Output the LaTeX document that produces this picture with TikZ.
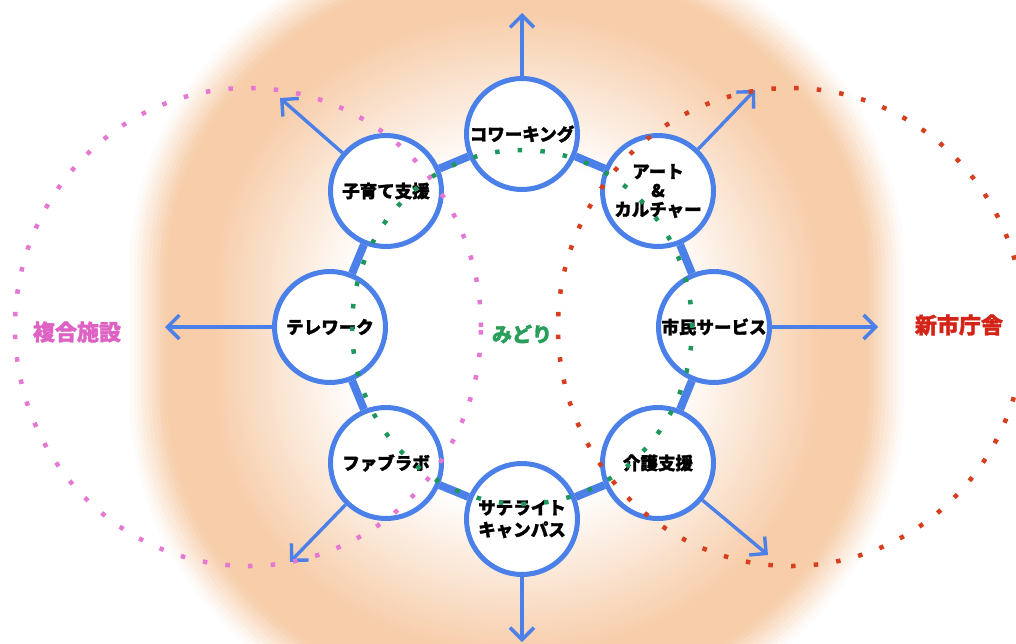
\documentclass[tikz,border=0pt]{standalone}
\usepackage{fontspec}
\setmainfont{Noto Sans CJK JP}[BoldFeatures={FakeBold=1.6}]
\usetikzlibrary{arrows.meta}
\definecolor{ringblue}{RGB}{74,128,232}
\definecolor{pinkdot}{RGB}{228,120,210}
\definecolor{pinktext}{RGB}{222,98,196}
\definecolor{reddot}{RGB}{214,62,30}
\definecolor{redtext}{RGB}{212,36,24}
\definecolor{greendot}{RGB}{30,150,92}
\definecolor{greentext}{RGB}{40,158,88}
\definecolor{orangec}{RGB}{247,205,170}
\tikzset{
  hub/.style={circle, draw=ringblue, line width=5pt, fill=white, minimum size=111pt, inner sep=0pt,
    font=\bfseries\fontsize{17.5}{22}\selectfont, align=center, text=black},
  link/.style={draw=ringblue, line width=8pt},
  outarrow/.style={draw=ringblue, line width=3.4pt, -{Straight Barb[length=12pt,width=24pt,line width=3.4pt]}},
  dotline/.style={line width=4.5pt, dash pattern=on 4.5pt off 18.2pt},
  biglabel/.style={font=\bfseries\fontsize{22}{24}\selectfont}
}
\begin{document}
\begin{tikzpicture}[x=1pt,y=-1pt]
\useasboundingbox (0,0) rectangle (1016,643);
\clip (0,0) rectangle (1016,643);
\fill[white] (0,0) rectangle (1016,643);
% soft orange glow (stadium-like, white centre)
\foreach \k in {0,...,64}{
  \pgfmathsetmacro{\ss}{1.045-0.01*\k}
  \pgfmathsetmacro{\am}{max(0,min(100,min((\ss-0.44)/0.38*100,(1.04-\ss)/0.10*100)))}
  \pgfmathsetmacro{\rx}{374*\ss}
  \pgfmathsetmacro{\ry}{330*\ss}
  \pgfmathsetmacro{\hh}{64.5*\ss}
  \fill[orangec!\am!white] (517-\rx,334-\hh) arc[start angle=180,end angle=360,x radius=\rx,y radius=\ry]
     -- (517+\rx,334+\hh) arc[start angle=0,end angle=180,x radius=\rx,y radius=\ry] -- cycle;
}
% nodes
\node[hub] (n0) at (522,134) {コワーキング};
\node[hub] (n1) at (658,191) {アート\\[-3pt]\&\\[-3pt]カルチャー};
\node[hub] (n2) at (714,327) {市民サービス};
\node[hub] (n3) at (658,463) {介護支援};
\node[hub] (n4) at (522,519) {サテライト\\キャンパス};
\node[hub] (n5) at (386,463) {ファブラボ};
\node[hub] (n6) at (330,327) {テレワーク};
\node[hub] (n7) at (386,191) {子育て支援};
% ring links
\draw[link] (n0) -- (n1);
\draw[link] (n1) -- (n2);
\draw[link] (n2) -- (n3);
\draw[link] (n3) -- (n4);
\draw[link] (n4) -- (n5);
\draw[link] (n5) -- (n6);
\draw[link] (n6) -- (n7);
\draw[link] (n7) -- (n0);
% arrow tips
\coordinate (t0) at (522,13);
\coordinate (t1) at (755,90);
\coordinate (t2) at (878,327);
\coordinate (t3) at (768,555);
\coordinate (t4) at (522,642);
\coordinate (t5) at (290,562);
\coordinate (t6) at (165,327);
\coordinate (t7) at (280,98);
\draw[outarrow] (n0) -- (t0);
\draw[outarrow] (n1) -- (t1);
\draw[outarrow] (n2) -- (t2);
\draw[outarrow] (n3) -- (t3);
\draw[outarrow] (n4) -- (t4);
\draw[outarrow] (n5) -- (t5);
\draw[outarrow] (n6) -- (t6);
\draw[outarrow] (n7) -- (t7);
% dotted ellipses
\draw[dotline, pinkdot] (248,327) ellipse [x radius=233pt, y radius=239pt];
\draw[dotline, reddot] (791,327) ellipse [x radius=233pt, y radius=239pt];
\draw[dotline, greendot] (522,327) ellipse [x radius=170pt, y radius=177pt];
% labels
\node[biglabel, text=pinktext] (lf) at (77,332) {複合施設};
\node[biglabel, text=redtext] (lr) at (959,325) {新市庁舎};
\node[font=\bfseries\fontsize{20}{22}\selectfont, text=greentext] (lg) at (522,334) {みどり};
\end{tikzpicture}
\end{document}
